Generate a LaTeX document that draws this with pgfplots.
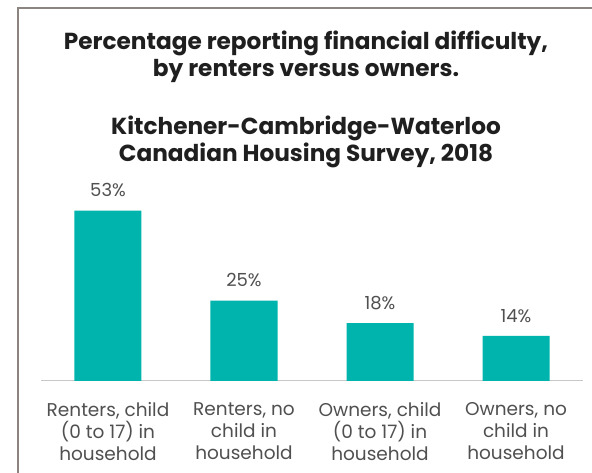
\documentclass[border=0pt]{standalone}
\usepackage{fontspec}
\setmainfont{Poppins}
\usepackage{pgfplots}
\pgfplotsset{compat=1.18}
\definecolor{barteal}{HTML}{00B4AE}
\definecolor{framegray}{HTML}{8C8480}
\definecolor{labgray}{HTML}{505050}
\definecolor{axgray}{HTML}{C8C8C8}
\begin{document}
\begin{tikzpicture}[x=1pt,y=1pt]
\useasboundingbox (0,0) rectangle (592,473);
\fill[white] (0,0) rectangle (592,473);
\draw[framegray, line width=2pt] (18,-2) -- (18,465) -- (594,465);
\node[font=\fontsize{23.2}{27}\selectfont\bfseries, text=black!88, align=center] at (306,416.5)
  {Percentage reporting financial difficulty,\\by renters versus owners.};
\node[font=\fontsize{23.2}{27}\selectfont\bfseries, text=black!88, align=center] at (306,331.5)
  {Kitchener-Cambridge-Waterloo\\Canadian Housing Survey, 2018};
\begin{axis}[
  at={(41pt,92pt)}, anchor=south west,
  scale only axis, width=542pt, height=193pt,
  xmin=-0.4926, xmax=3.4926, ymin=0, ymax=60,
  axis x line*=bottom, axis y line=none,
  x axis line style={axgray, line width=1pt, -},
  xtick=data, major tick length=0pt,
  xticklabels={{Renters, child\\(0 to 17) in\\household},{Renters, no\\child in\\household},{Owners, child\\(0 to 17) in\\household},{Owners, no\\child in\\household}},
  xticklabel style={font=\fontsize{18.5}{22}\selectfont, text=labgray, align=center, yshift=-18pt},
  ytick=\empty,
  clip=false,
  /pgf/number format/assume math mode=true,
  nodes near coords={\pgfmathprintnumber{\pgfplotspointmeta}\%},
  nodes near coords style={font=\fontsize{18}{20}\selectfont, text=labgray, anchor=south, yshift=10pt},
]
\addplot[ybar, bar width=67pt, fill=barteal, draw=none] coordinates {(0,53) (1,25) (2,18) (3,14)};
\end{axis}
\end{tikzpicture}
\end{document}
